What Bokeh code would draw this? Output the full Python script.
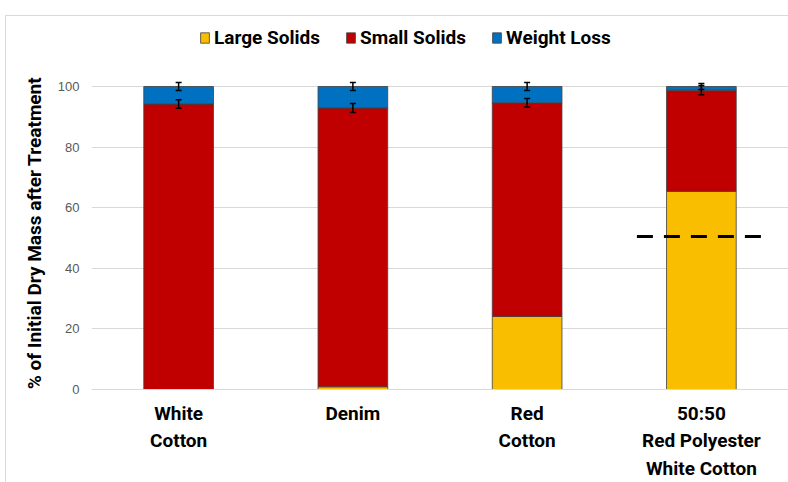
from bokeh.plotting import figure
from bokeh.layouts import column
from bokeh.models import ColumnDataSource, Range1d, FixedTicker, Legend, LegendItem
from bokeh.embed import file_html
from bokeh.resources import INLINE

# ---- data ----
categories = ["White\nCotton", "Denim", "Red\nCotton", "50:50\nRed Polyester\nWhite Cotton"]
large_solids = [0.0, 0.9, 24.1, 65.4]
small_solids = [94.2, 92.0, 70.5, 33.4]
weight_loss = [5.8, 7.1, 5.4, 1.2]
small_err = [1.4, 1.5, 1.4, 1.5]
total_err = [1.3, 1.3, 1.3, 1.0]
reference_level = 50.5
y_ticks = [0, 20, 40, 60, 80, 100]
series_names = ["Large Solids", "Small Solids", "Weight Loss"]
colors = ["#F9BE00", "#C00000", "#0070C0"]

FONT = "Roboto"
EDGE = "#404040"

xs = list(range(1, len(categories) + 1))
t1 = list(large_solids)
t2 = [a + b for a, b in zip(large_solids, small_solids)]
t3 = [a + b for a, b in zip(t2, weight_loss)]

src = ColumnDataSource(dict(x=xs, b1=[0] * len(xs), t1=t1, t2=t2, t3=t3,
                            s_lo=[v - e for v, e in zip(t2, small_err)],
                            s_hi=[v + e for v, e in zip(t2, small_err)],
                            w_lo=[v - e for v, e in zip(t3, total_err)],
                            w_hi=[v + e for v, e in zip(t3, total_err)]))

# ---------------- legend strip (its x range shows none of the bars) ----------------
lg = figure(width=782, height=50, output_backend="svg", toolbar_location=None,
            x_range=Range1d(-10, -9), y_range=Range1d(0, 1),
            min_border_left=0, min_border_right=0, min_border_top=0, min_border_bottom=0)
lg.axis.visible = False
lg.grid.visible = False
lg.outline_line_color = None
leg_r = [lg.vbar(x="x", bottom="b1", top=tc, width=0.4, source=src, fill_color=c,
                 line_color=EDGE, line_width=0.8)
         for tc, c in zip(["t1", "t2", "t3"], colors)]
legend = Legend(items=[LegendItem(label=n, renderers=[r]) for n, r in zip(series_names, leg_r)],
                orientation="horizontal", location=(108, 17),
                glyph_width=11, glyph_height=13, label_standoff=4, spacing=25,
                padding=0, margin=0, border_line_color=None, background_fill_alpha=0,
                label_text_font=FONT, label_text_font_style="bold",
                label_text_font_size="19px", label_text_color="black")
lg.add_layout(legend, "center")

# ---------------- main chart ----------------
p = figure(width=782, height=416, output_backend="svg", toolbar_location=None,
           x_range=Range1d(0.5, 4.5), y_range=Range1d(0, 103.3),
           min_border_left=85, min_border_right=0, min_border_top=10, min_border_bottom=93)
p.outline_line_color = None
p.background_fill_color = "white"
p.border_fill_color = "white"

bw = 0.4
p.vbar(x="x", bottom="b1", top="t1", width=bw, source=src, fill_color=colors[0],
       line_color=EDGE, line_width=0.8)
p.vbar(x="x", bottom="t1", top="t2", width=bw, source=src, fill_color=colors[1],
       line_color=EDGE, line_width=0.8)
p.vbar(x="x", bottom="t2", top="t3", width=bw, source=src, fill_color=colors[2],
       line_color=EDGE, line_width=0.8)

# error bars
for lo, hi in (("s_lo", "s_hi"), ("w_lo", "w_hi")):
    p.segment(x0="x", y0=lo, x1="x", y1=hi, source=src, line_color="black", line_width=1.5)
    p.scatter(x="x", y=lo, source=src, marker="dash", size=6, line_color="black", line_width=1.5)
    p.scatter(x="x", y=hi, source=src, marker="dash", size=6, line_color="black", line_width=1.5)

# dashed reference line across last category
p.line(x=[xs[-1] - 0.37, xs[-1] + 0.37], y=[reference_level, reference_level],
       line_color="black", line_width=3, line_dash="16 11")

# axes
p.xgrid.grid_line_color = None
p.ygrid.grid_line_color = "#d9d9d9"
p.ygrid.grid_line_width = 1
p.yaxis.ticker = FixedTicker(ticks=y_ticks)
p.yaxis.axis_line_color = None
p.yaxis.major_tick_line_color = None
p.yaxis.minor_tick_line_color = None
p.yaxis.major_label_text_font = "Liberation Sans"
p.yaxis.major_label_text_font_size = "13px"
p.yaxis.major_label_text_color = "#595959"
p.yaxis.major_label_standoff = 6
p.yaxis.axis_label = "% of Initial Dry Mass after Treatment"
p.yaxis.axis_label_text_font = FONT
p.yaxis.axis_label_text_font_style = "bold"
p.yaxis.axis_label_text_font_size = "19px"
p.yaxis.axis_label_text_color = "black"
p.yaxis.axis_label_standoff = 9

p.xaxis.ticker = FixedTicker(ticks=xs)
p.xaxis.major_label_overrides = {x: c for x, c in zip(xs, categories)}
p.xaxis.axis_line_color = "#d9d9d9"
p.xaxis.major_tick_line_color = None
p.xaxis.minor_tick_line_color = None
p.xaxis.major_label_text_font = FONT
p.xaxis.major_label_text_font_style = "bold"
p.xaxis.major_label_text_font_size = "19px"
p.xaxis.major_label_text_color = "black"
p.xaxis.major_label_text_line_height = 1.2
p.xaxis.major_label_standoff = 6

layout = column(lg, p, spacing=0,
                styles={"margin-top": "15px", "margin-left": "5px",
                        "border-top": "1px solid #d9d9d9", "border-left": "1px solid #d9d9d9"})

open("out.html", "w").write(file_html(layout, INLINE))
